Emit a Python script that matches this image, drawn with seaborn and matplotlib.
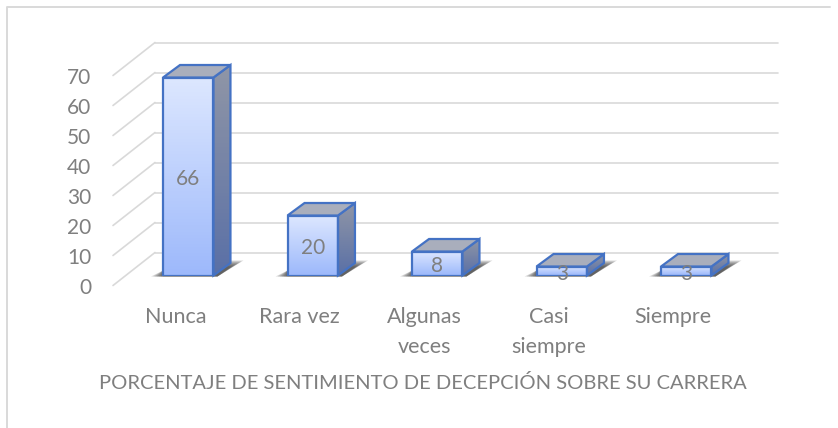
import numpy as np
import pandas as pd
import seaborn as sns
import matplotlib.pyplot as plt
from matplotlib.colors import LinearSegmentedColormap
from matplotlib.patches import Polygon
from matplotlib.lines import Line2D
from matplotlib.transforms import ScaledTranslation

categories = ["Nunca", "Rara vez", "Algunas\nveces", "Casi\nsiempre", "Siempre"]
values = [66, 20, 8, 3, 3]
y_ticks = [0, 10, 20, 30, 40, 50, 60, 70]
x_title = "PORCENTAJE DE SENTIMIENTO DE DECEPCIÓN SOBRE SU CARRERA"

W, H = 838, 428
GREY = "#7f7f7f"
GRID = "#d9d9d9"
EDGE = "#4472c4"

sns.set_theme(style="white")
plt.rcParams["font.family"] = ["Lato", "DejaVu Sans"]

fig = plt.figure(figsize=(W / 100, H / 100), dpi=100)
ax = fig.add_axes([126 / W, 1 - 275.5 / H, 622.5 / W, 210 / H])

df = pd.DataFrame({"cat": categories, "val": values})
sns.barplot(data=df, x="cat", y="val", width=0.405, color="#cfdcfb", ax=ax,
            edgecolor=EDGE, linewidth=1.6, zorder=5)
ax.set_xlim(-0.5, 4.5)
ax.set_ylim(0, 70)
ax.set_yticks(y_ticks)
ax.set_xlabel("")
ax.set_ylabel("")
sns.despine(ax=ax, left=True, bottom=True)
ax.patch.set_visible(False)

# wall + floor-side gridlines, 3d depth comes from pixel offsets
x_left, x_right = ax.get_xlim()
for t in y_ticks:
    p0 = ax.transData.transform((x_left, t))
    p1 = ax.transData.transform((x_right, t))
    fig.add_artist(Line2D([p0[0] - 13, p0[0] + 29], [p0[1] - 10, p0[1] + 23],
                          color=GRID, lw=1.2, transform=None, zorder=-1))
    fig.add_artist(Line2D([p0[0] + 29, p1[0] + 29], [p0[1] + 23, p1[1] + 23],
                          color=GRID, lw=1.2, transform=None, zorder=-1))

# 3d faces built from the seaborn bars
DX, DY = 17, 12.5
front_cmap = LinearSegmentedColormap.from_list("f", ["#dde7ff", "#9db9fb"])
side_cmap = LinearSegmentedColormap.from_list("s", ["#9096a6", "#5a70a6"])
grad = np.linspace(0, 1, 64).reshape(-1, 1)

for bar in ax.patches:
    x0, x1 = bar.get_x(), bar.get_x() + bar.get_width()
    h = bar.get_height()
    (px0, py0) = ax.transData.transform((x0, 0))
    (px1, py1) = ax.transData.transform((x1, h))

    # soft floor shadow, shrinking layers get darker near the bar
    for k in range(7):
        g = 12 - k * 2
        shadow = Polygon([(px0 - g, py0 - 1), (px1 + 4, py0 - 1),
                          (px1 + 18 + g, py0 + 15 - k), (px1, py0 + 15 - k),
                          (px0, py0 + 5)],
                         closed=True, fc="#303030", ec="none", alpha=0.18,
                         transform=None, zorder=1.5, clip_on=False)
        ax.add_artist(shadow)

    # front gradient, clipped to the bar
    im = ax.imshow(grad, extent=(x0, x1, 0, h), aspect="auto", cmap=front_cmap, zorder=5.1)
    im.set_clip_path(bar)
    bar.set_facecolor("none")
    bar.set_zorder(5.25)

    # side gradient
    side = Polygon([(px1, py0), (px1 + DX, py0 + DY), (px1 + DX, py1 + DY), (px1, py1)],
                   closed=True, fc="none", ec=EDGE, lw=1.6, transform=None, zorder=5.3,
                   clip_on=False)
    ax.add_artist(side)
    im2 = ax.imshow(grad, aspect="auto", cmap=side_cmap, zorder=5.2,
                    extent=(x1, x1 + DX / (622.5 / 5), 0, h + DY / 3.0))
    im2.set_clip_path(side)

    top = Polygon([(px0, py1), (px1, py1), (px1 + DX, py1 + DY), (px0 + DX, py1 + DY)],
                  closed=True, fc="#a9aebc", ec=EDGE, lw=1.6, transform=None, zorder=5.3,
                  clip_on=False)
    ax.add_artist(top)

ax.set_xlim(-0.5, 4.5)
ax.set_ylim(0, 70)

# value labels
for lab in ax.bar_label(ax.containers[0], label_type="center", color=GREY, fontsize=15):
    lab.set_zorder(7)
    lab.set_clip_on(False)
    lab.xyann = (0, -1.8)

# tick labels sit in front of the bar plane
ax.tick_params(axis="y", length=0, pad=25, labelsize=15, labelcolor=GREY)
ax.tick_params(axis="x", length=0, pad=23, labelsize=15.5, labelcolor=GREY)
for lab in ax.get_yticklabels():
    lab.set_transform(lab.get_transform() + ScaledTranslation(0, -10 / 100, fig.dpi_scale_trans))
for lab in ax.get_xticklabels():
    lab.set_transform(lab.get_transform() + ScaledTranslation(-13 / 100, 0, fig.dpi_scale_trans))
    lab.set_linespacing(1.6)

fig.text(423 / W, 1 - 383 / H, x_title, ha="center", va="center", color=GREY, fontsize=14.5)

# chart frame
fig.add_artist(Line2D([7, 7, 830], [0, H - 7, H - 7], color=GRID, lw=1.4, transform=None, zorder=-1))

fig.savefig("out.png", dpi=100)
